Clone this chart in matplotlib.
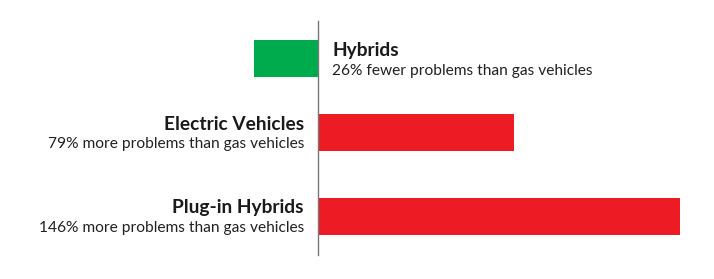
import matplotlib
matplotlib.use("Agg")
import matplotlib.pyplot as plt

categories = ["Hybrids", "Electric Vehicles", "Plug-in Hybrids"]
values = [-26, 79, 146]
subtitles = [
    "26% fewer problems than gas vehicles",
    "79% more problems than gas vehicles",
    "146% more problems than gas vehicles",
]
colors = ["#00AB4E", "#ED1C24", "#ED1C24"]

W, H = 714, 279
fig = plt.figure(figsize=(W / 100, H / 100), dpi=100)
ax = fig.add_axes([0, 0, 1, 1])

px_per_unit = 2.48
zero_px = 318
ax.set_xlim(-zero_px / px_per_unit, (W - zero_px) / px_per_unit)
ax.set_ylim(H, 0)
ax.axis("off")

centers = [58.5, 132, 216]
bar_h = 37
ax.barh(centers, values, height=bar_h, color=colors, zorder=2)
ax.plot([0, 0], [21, 255], color="#777777", lw=1.0, zorder=3)

title_font = dict(family="Lato", weight="bold", size=13.8, color="#1a1a1a")
sub_font = dict(family="Lato", size=11.2, color="#222222")

for c, v, name, sub in zip(centers, values, categories, subtitles):
    if v < 0:
        x = 14 / px_per_unit
        ha = "left"
    else:
        x = -14 / px_per_unit
        ha = "right"
    ax.text(x, c - 2.5, name, ha=ha, va="baseline", **title_font)
    ax.text(x, c + 16, sub, ha=ha, va="baseline", **sub_font)

fig.savefig("out.png", dpi=100)
